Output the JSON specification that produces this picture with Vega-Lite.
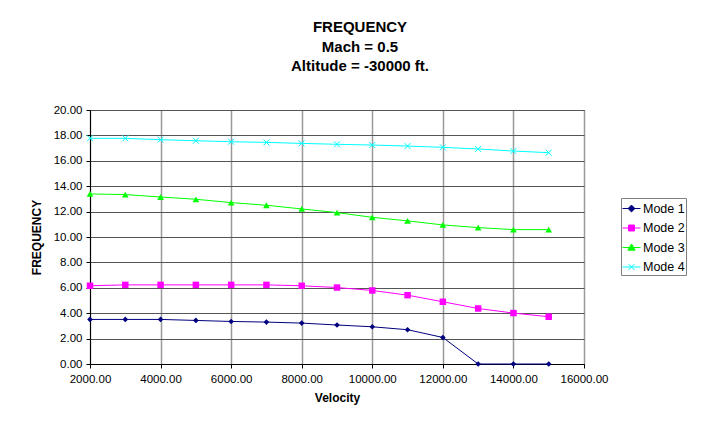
{
  "$schema": "https://vega.github.io/schema/vega-lite/v6.json",
  "autosize": {"type": "none"},
  "padding": {"left": 90, "top": 110, "right": 128, "bottom": 59},
  "width": 494,
  "height": 254,
  "background": "white",
  "config": {
    "font": "Liberation Sans",
    "view": {"stroke": "black", "strokeWidth": 1},
    "axis": {
      "labelFont": "Liberation Sans",
      "labelFontSize": 11.5,
      "labelColor": "black",
      "titleFont": "Liberation Sans",
      "titleFontSize": 12,
      "titleFontWeight": "bold",
      "titleColor": "black",
      "domainColor": "black",
      "tickColor": "black",
      "tickSize": 4,
      "gridOpacity": 1,
      "gridWidth": 1,
      "labelFlush": false,
      "labelOverlap": false,
      "labelBound": false
    }
  },
  "title": {
    "text": ["FREQUENCY", "Mach = 0.5", "Altitude = -30000 ft."],
    "font": "Liberation Sans",
    "fontSize": 15,
    "fontWeight": "bold",
    "color": "black",
    "lineHeight": 19.5,
    "anchor": "middle",
    "dx": 23,
    "offset": 30
  },
  "data": {
    "values": [
      {"Velocity": 2000, "Mode": "Mode 1", "Frequency": 3.51},
      {"Velocity": 3000, "Mode": "Mode 1", "Frequency": 3.51},
      {"Velocity": 4000, "Mode": "Mode 1", "Frequency": 3.51},
      {"Velocity": 5000, "Mode": "Mode 1", "Frequency": 3.43},
      {"Velocity": 6000, "Mode": "Mode 1", "Frequency": 3.35},
      {"Velocity": 7000, "Mode": "Mode 1", "Frequency": 3.30},
      {"Velocity": 8000, "Mode": "Mode 1", "Frequency": 3.22},
      {"Velocity": 9000, "Mode": "Mode 1", "Frequency": 3.07},
      {"Velocity": 10000, "Mode": "Mode 1", "Frequency": 2.93},
      {"Velocity": 11000, "Mode": "Mode 1", "Frequency": 2.70},
      {"Velocity": 12000, "Mode": "Mode 1", "Frequency": 2.09},
      {"Velocity": 13000, "Mode": "Mode 1", "Frequency": 0.0},
      {"Velocity": 14000, "Mode": "Mode 1", "Frequency": 0.0},
      {"Velocity": 15000, "Mode": "Mode 1", "Frequency": 0.0},
      {"Velocity": 2000, "Mode": "Mode 2", "Frequency": 6.16},
      {"Velocity": 3000, "Mode": "Mode 2", "Frequency": 6.23},
      {"Velocity": 4000, "Mode": "Mode 2", "Frequency": 6.23},
      {"Velocity": 5000, "Mode": "Mode 2", "Frequency": 6.23},
      {"Velocity": 6000, "Mode": "Mode 2", "Frequency": 6.23},
      {"Velocity": 7000, "Mode": "Mode 2", "Frequency": 6.23},
      {"Velocity": 8000, "Mode": "Mode 2", "Frequency": 6.16},
      {"Velocity": 9000, "Mode": "Mode 2", "Frequency": 6.02},
      {"Velocity": 10000, "Mode": "Mode 2", "Frequency": 5.79},
      {"Velocity": 11000, "Mode": "Mode 2", "Frequency": 5.42},
      {"Velocity": 12000, "Mode": "Mode 2", "Frequency": 4.90},
      {"Velocity": 13000, "Mode": "Mode 2", "Frequency": 4.37},
      {"Velocity": 14000, "Mode": "Mode 2", "Frequency": 4.01},
      {"Velocity": 15000, "Mode": "Mode 2", "Frequency": 3.72},
      {"Velocity": 2000, "Mode": "Mode 3", "Frequency": 13.39},
      {"Velocity": 3000, "Mode": "Mode 3", "Frequency": 13.34},
      {"Velocity": 4000, "Mode": "Mode 3", "Frequency": 13.15},
      {"Velocity": 5000, "Mode": "Mode 3", "Frequency": 12.97},
      {"Velocity": 6000, "Mode": "Mode 3", "Frequency": 12.71},
      {"Velocity": 7000, "Mode": "Mode 3", "Frequency": 12.50},
      {"Velocity": 8000, "Mode": "Mode 3", "Frequency": 12.21},
      {"Velocity": 9000, "Mode": "Mode 3", "Frequency": 11.92},
      {"Velocity": 10000, "Mode": "Mode 3", "Frequency": 11.55},
      {"Velocity": 11000, "Mode": "Mode 3", "Frequency": 11.27},
      {"Velocity": 12000, "Mode": "Mode 3", "Frequency": 10.95},
      {"Velocity": 13000, "Mode": "Mode 3", "Frequency": 10.74},
      {"Velocity": 14000, "Mode": "Mode 3", "Frequency": 10.58},
      {"Velocity": 15000, "Mode": "Mode 3", "Frequency": 10.58},
      {"Velocity": 2000, "Mode": "Mode 4", "Frequency": 17.77},
      {"Velocity": 3000, "Mode": "Mode 4", "Frequency": 17.77},
      {"Velocity": 4000, "Mode": "Mode 4", "Frequency": 17.66},
      {"Velocity": 5000, "Mode": "Mode 4", "Frequency": 17.58},
      {"Velocity": 6000, "Mode": "Mode 4", "Frequency": 17.50},
      {"Velocity": 7000, "Mode": "Mode 4", "Frequency": 17.45},
      {"Velocity": 8000, "Mode": "Mode 4", "Frequency": 17.37},
      {"Velocity": 9000, "Mode": "Mode 4", "Frequency": 17.30},
      {"Velocity": 10000, "Mode": "Mode 4", "Frequency": 17.24},
      {"Velocity": 11000, "Mode": "Mode 4", "Frequency": 17.16},
      {"Velocity": 12000, "Mode": "Mode 4", "Frequency": 17.06},
      {"Velocity": 13000, "Mode": "Mode 4", "Frequency": 16.93},
      {"Velocity": 14000, "Mode": "Mode 4", "Frequency": 16.77},
      {"Velocity": 15000, "Mode": "Mode 4", "Frequency": 16.64}
    ]
  },
  "encoding": {
    "x": {
      "field": "Velocity",
      "type": "quantitative",
      "title": "Velocity",
      "scale": {"domain": [2000, 16000], "nice": false, "zero": false},
      "axis": {
        "values": [2000, 4000, 6000, 8000, 10000, 12000, 14000, 16000],
        "format": ".2f",
        "labelPadding": 5,
        "titlePadding": 8,
        "gridColor": "#999999",
        "gridWidth": 1.5
      }
    },
    "y": {
      "field": "Frequency",
      "type": "quantitative",
      "title": "FREQUENCY",
      "scale": {"domain": [0, 20], "nice": false},
      "axis": {
        "values": [0, 2, 4, 6, 8, 10, 12, 14, 16, 18, 20],
        "format": ".2f",
        "labelPadding": 4,
        "titlePadding": 10,
        "gridColor": "#555555"
      }
    }
  },
  "layer": [
    {
      "mark": {"type": "line", "strokeWidth": 1, "clip": false},
      "encoding": {
        "color": {
          "field": "Mode",
          "type": "nominal",
          "title": null,
          "scale": {
            "domain": ["Mode 1", "Mode 2", "Mode 3", "Mode 4"],
            "range": ["#000080", "#FF00FF", "#00FF00", "#00FFFF"]
          },
          "legend": {
            "orient": "none",
            "legendX": 531,
            "legendY": 88,
            "strokeColor": "#808080",
            "fillColor": "white",
            "padding": 1,
            "labelFont": "Liberation Sans",
            "labelFontSize": 12.5,
            "labelColor": "black",
            "symbolType": "M-1,0H1",
            "symbolSize": 324,
            "symbolStrokeWidth": 1,
            "rowPadding": 3.5,
            "labelOffset": 2,
            "encode": {
              "symbols": {
                "update": {
                  "shape": {"signal": "datum.value === 'Mode 1' ? 'M-1,0H1M0,-0.38L0.38,0L0,0.38L-0.38,0Z' : datum.value === 'Mode 2' ? 'M-1,0H1M-0.33,-0.33H0.33V0.33H-0.33Z' : datum.value === 'Mode 3' ? 'M-1,0H1M0,-0.4L0.4,0.3H-0.4Z' : 'M-1,0H1M-0.33,-0.33L0.33,0.33M-0.33,0.33L0.33,-0.33'"},
                  "fill": {"signal": "scale('color', datum.value)"},
                  "stroke": {"signal": "scale('color', datum.value)"},
                  "strokeWidth": {"value": 1},
                  "opacity": {"value": 1}
                }
              }
            }
          }
        }
      }
    },
    {
      "transform": [{"filter": "datum.Mode === 'Mode 1'"}],
      "mark": {"type": "point", "shape": "diamond", "size": 32, "filled": true, "color": "#000080", "opacity": 1, "clip": false}
    },
    {
      "transform": [{"filter": "datum.Mode === 'Mode 2'"}],
      "mark": {"type": "point", "shape": "square", "size": 42, "filled": true, "color": "#FF00FF", "opacity": 1, "clip": false}
    },
    {
      "transform": [{"filter": "datum.Mode === 'Mode 3'"}],
      "mark": {"type": "point", "shape": "triangle-up", "size": 45, "filled": true, "color": "#00FF00", "opacity": 1, "clip": false}
    },
    {
      "transform": [{"filter": "datum.Mode === 'Mode 4'"}],
      "mark": {"type": "point", "shape": "M-1,-1L1,1M-1,1L1,-1", "size": 36, "filled": false, "color": "#00FFFF", "strokeWidth": 1, "opacity": 1, "clip": false}
    }
  ]
}
